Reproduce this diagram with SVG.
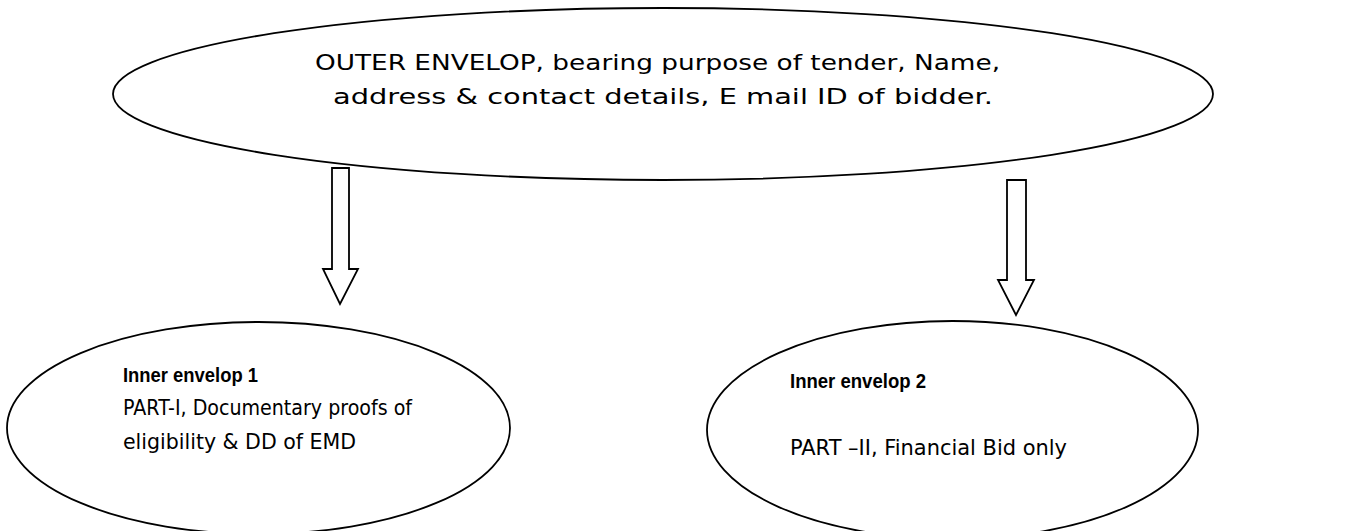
<svg xmlns="http://www.w3.org/2000/svg" width="1367" height="531" viewBox="0 0 1367 531">
<style>
.shape{fill:#fff;stroke:#000;stroke-width:1.8}
.t{font-family:"DejaVu Sans","Liberation Sans",sans-serif;font-size:22px;fill:#000}
.b{font-family:"Liberation Sans","DejaVu Sans",sans-serif;font-weight:bold;font-size:21px}
</style>
<rect width="1367" height="531" fill="#fff"/>
<g id="connectors">
<path class="shape" d="M332,168 H349 V269 H358 L340,304 L323,269 H332 Z"/>
<path class="shape" d="M1007,180 H1026 V280 H1034 L1016,315 L998,280 H1007 Z"/>
</g>
<g id="outer">
<ellipse class="shape" cx="663" cy="94" rx="550" ry="86"/>
<text class="t" x="315" y="70" textLength="685" lengthAdjust="spacingAndGlyphs">OUTER ENVELOP, bearing purpose of tender, Name,</text>
<text class="t" x="333" y="104" textLength="660" lengthAdjust="spacingAndGlyphs">address &amp; contact details, E mail ID of bidder.</text>
</g>
<g id="inner1">
<ellipse class="shape" cx="258.5" cy="428" rx="251.5" ry="106"/>
<text class="t b" x="123" y="382" textLength="135" lengthAdjust="spacingAndGlyphs">Inner envelop 1</text>
<text class="t" x="123" y="415" textLength="289" lengthAdjust="spacingAndGlyphs">PART-I, Documentary proofs of</text>
<text class="t" x="123" y="449" textLength="233" lengthAdjust="spacingAndGlyphs">eligibility &amp; DD of EMD</text>
</g>
<g id="inner2">
<ellipse class="shape" cx="952.5" cy="430" rx="245.5" ry="109"/>
<text class="t b" x="790" y="388" textLength="136" lengthAdjust="spacingAndGlyphs">Inner envelop 2</text>
<text class="t" x="790" y="455" textLength="277" lengthAdjust="spacingAndGlyphs">PART –II, Financial Bid only</text>
</g>
</svg>
